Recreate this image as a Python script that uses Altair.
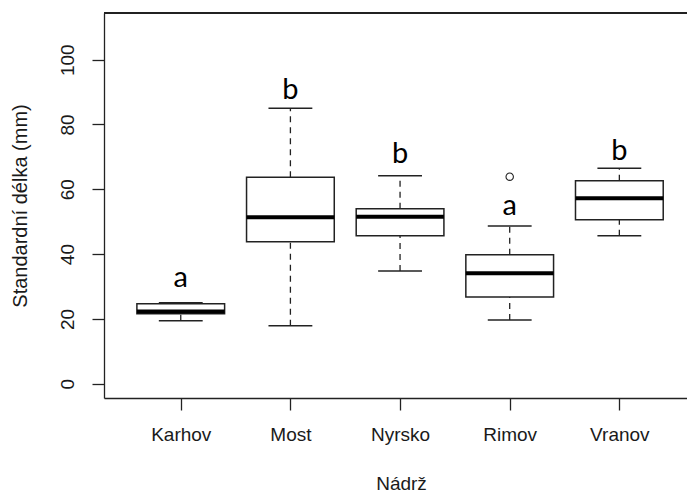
import altair as alt
import pandas as pd

names = ["Karhov", "Most", "Nyrsko", "Rimov", "Vranov"]
lower = [19.4, 17.9, 34.8, 19.7, 45.7]
q1 = [21.6, 43.8, 45.7, 26.8, 50.6]
median = [22.3, 51.4, 51.5, 34.1, 57.2]
q3 = [24.7, 63.7, 54.0, 39.8, 62.6]
upper = [25.0, 85.0, 64.2, 48.7, 66.5]
letters = ["a", "b", "b", "a", "b"]
letter_y = [30, 88, 68, 52, 69]
outlier_group = ["Rimov"]
outlier_val = [63.9]
y_ticks = [0, 20, 40, 60, 80, 100]

pos = list(range(1, len(names) + 1))
df = pd.DataFrame({"name": names, "pos": pos, "lower": lower, "q1": q1,
                   "median": median, "q3": q3, "upper": upper,
                   "letter": letters, "ly": letter_y})
odf = pd.DataFrame({"name": outlier_group, "val": outlier_val})
odf["pos"] = [names.index(n) + 1 for n in outlier_group]

W, H = 583, 385
LINE = "#222222"
FONT = "Liberation Sans"

label_expr = "[" + ",".join('"%s"' % n for n in names) + "][datum.value - 1]"

xscale = alt.Scale(domain=[0.3, 0.3 + W / 109.65], nice=False, zero=False)
yscale = alt.Scale(domain=[-4.4, 114.4], nice=False, zero=False)

xax = alt.Axis(values=pos, labelExpr=label_expr, tickSize=12, tickColor=LINE,
               tickWidth=1.3, domainColor=LINE, domainWidth=1.3, grid=False,
               labelFont=FONT, labelFontSize=19, labelColor="#1a1a1a",
               labelPadding=24, labelBaseline="middle", labelAngle=0,
               title="Nádrž", titleFont=FONT, titleFontSize=19,
               titleFontWeight="normal", titleColor="#1a1a1a",
               titleX=297, titleY=85, titleBaseline="middle", titleAlign="center")
yax = alt.Axis(values=y_ticks, tickSize=12, tickColor=LINE, tickWidth=1.3,
               domainColor=LINE, domainWidth=1.3, grid=False,
               labelFont=FONT, labelFontSize=19, labelColor="#1a1a1a",
               labelAngle=270, labelAlign="center", labelBaseline="middle",
               labelPadding=25,
               title="Standardní délka (mm)", titleFont=FONT, titleFontSize=20,
               titleFontWeight="normal", titleColor="#1a1a1a", titleAngle=270,
               titleX=-84, titleY=H / 2, titleBaseline="middle", titleAlign="center")

base = alt.Chart(df).transform_calculate(
    bl="datum.pos - 0.4", br="datum.pos + 0.4",
    cl="datum.pos - 0.2", cr="datum.pos + 0.2")

boxes = base.mark_bar(fill="white", stroke=LINE, strokeWidth=1.5).encode(
    x=alt.X("bl:Q", scale=xscale, axis=xax),
    x2="br:Q",
    y=alt.Y("q1:Q", scale=yscale, axis=yax),
    y2="q3:Q")

upper_wh = base.mark_rule(color=LINE, strokeWidth=1.3, strokeDash=[6, 5]).encode(
    x=alt.X("pos:Q", scale=xscale), y=alt.Y("q3:Q", scale=yscale), y2="upper:Q")
lower_wh = base.mark_rule(color=LINE, strokeWidth=1.3, strokeDash=[6, 5]).encode(
    x=alt.X("pos:Q", scale=xscale), y=alt.Y("lower:Q", scale=yscale), y2="q1:Q")
cap_u = base.mark_rule(color=LINE, strokeWidth=1.5).encode(
    x=alt.X("cl:Q", scale=xscale), x2="cr:Q", y=alt.Y("upper:Q", scale=yscale))
cap_l = base.mark_rule(color=LINE, strokeWidth=1.5).encode(
    x=alt.X("cl:Q", scale=xscale), x2="cr:Q", y=alt.Y("lower:Q", scale=yscale))
med = base.mark_rule(color="black", strokeWidth=4).encode(
    x=alt.X("bl:Q", scale=xscale), x2="br:Q", y=alt.Y("median:Q", scale=yscale))

outl = alt.Chart(odf).mark_point(shape="circle", filled=False, size=55,
                                  stroke=LINE, strokeWidth=1.1, opacity=1).encode(
    x=alt.X("pos:Q", scale=xscale), y=alt.Y("val:Q", scale=yscale))

text = base.mark_text(font="Lato", fontSize=29, color="black",
                      baseline="alphabetic", align="center").encode(
    x=alt.X("pos:Q", scale=xscale), y=alt.Y("ly:Q", scale=yscale), text="letter:N")

top_border = alt.Chart(df).mark_rule(color=LINE, strokeWidth=1.3).encode(
    x=alt.value(0), x2=alt.value(W), y=alt.value(0))

chart = alt.layer(boxes, upper_wh, lower_wh, cap_u, cap_l, med, outl, text,
                  top_border).properties(
    width=W, height=H,
    autosize=alt.AutoSizeParams(type="none"),
    padding={"left": 104, "top": 13, "right": 0, "bottom": 96},
    background="white",
).configure_view(stroke=None)

chart.save("out.html", embed_options={"renderer": "svg", "actions": False})
